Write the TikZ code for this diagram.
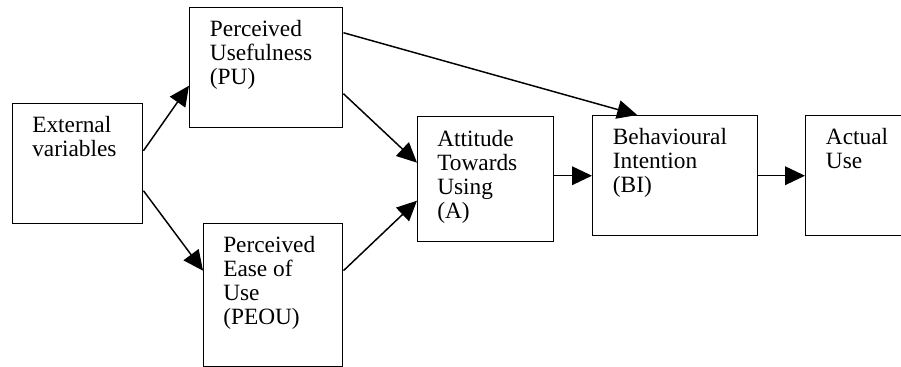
\documentclass[tikz,border=0pt]{standalone}
\usepackage{fontspec}
\setmainfont{Liberation Serif}
\usetikzlibrary{arrows.meta}

\begin{document}
\begin{tikzpicture}[
  x=0.75pt, y=-0.75pt,
  box/.style={draw, rectangle, line width=1.1pt, anchor=north west, inner sep=0pt},
  lbl/.style={anchor=north west, align=left, inner sep=0pt, font=\rmfamily\fontsize{17.5}{18}\selectfont},
  arr/.style={-{Triangle[length=15pt, width=14pt]}, line width=1.1pt}
]
\clip (0,0) rectangle (901,367);

% boxes
\node[box, minimum width=97.5pt, minimum height=90pt] (ext) at (12,103) {};
\node[box, minimum width=114.75pt, minimum height=90pt] (pu) at (189,7) {};
\node[box, minimum width=104.25pt, minimum height=107.25pt] (peou) at (203,223) {};
\node[box, minimum width=102pt, minimum height=93.75pt] (att) at (417,116) {};
\node[box, minimum width=123.75pt, minimum height=90pt] (bi) at (592,115) {};
\node[box, minimum width=78.75pt, minimum height=90pt] (act) at (805,115) {};

% texts
\node[lbl] (ext-t) at ([shift={(15pt,-10pt)}]ext.north west) {External\\variables};
\node[lbl] (pu-t) at ([shift={(15.5pt,-10pt)}]pu.north west) {Perceived\\Usefulness\\(PU)};
\node[lbl] (peou-t) at ([shift={(15pt,-9.5pt)}]peou.north west) {Perceived\\Ease of\\Use\\(PEOU)};
\node[lbl] (att-t) at ([shift={(15pt,-10.5pt)}]att.north west) {Attitude\\Towards\\Using\\(A)};
\node[lbl] (bi-t) at ([shift={(15.5pt,-9.5pt)}]bi.north west) {Behavioural\\Intention\\(BI)};
\node[lbl] (act-t) at ([shift={(15.5pt,-9.5pt)}]act.north west) {Actual\\Use};

% links
\draw[arr] ([yshift=9.75pt]ext.east) -- ([yshift=-13.5pt]pu.west);
\draw[arr] ([yshift=-20.25pt]ext.east) -- ([yshift=18.4pt]peou.west);
\draw[arr] ([yshift=-19.5pt]pu.east) -- ([yshift=12.4pt]att.west);
\draw[arr] ([yshift=18.4pt]peou.east) -- ([yshift=-16.1pt]att.west);
\draw[arr] ([yshift=26.25pt]pu.east) -- ([xshift=-28.5pt]bi.north);
\draw[arr] (att.east |- bi.west) -- (bi.west);
\draw[arr] (bi.east) -- (act.west);
\end{tikzpicture}
\end{document}
